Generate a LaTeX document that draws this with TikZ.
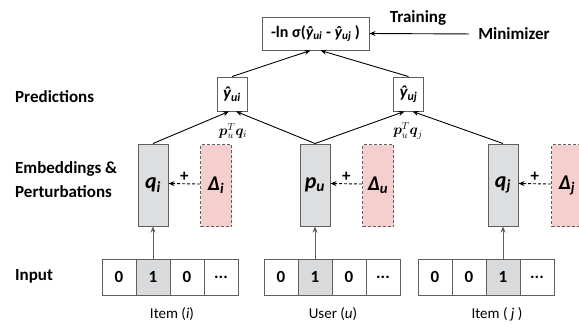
\documentclass[tikz,border=0pt]{standalone}
\usepackage{fontspec}
\setmainfont{Carlito}
\usepackage{amsmath,bm}
\usetikzlibrary{arrows.meta}
\definecolor{embfill}{RGB}{221,222,224}
\definecolor{pertfill}{RGB}{245,206,206}
\definecolor{cellone}{RGB}{217,218,220}
\definecolor{edgecol}{RGB}{95,95,95}
\begin{document}
\begin{tikzpicture}[x=1pt,y=-1pt,
  lbl/.style={font=\fontsize{17}{24}\selectfont\bfseries, anchor=west, align=left, inner sep=0pt},
  emb/.style={draw=edgecol, fill=embfill, minimum width=30pt, minimum height=82pt, line width=1pt, inner sep=0pt, font=\fontsize{22}{24}\selectfont\bfseries\itshape},
  pert/.style={draw=edgecol, dash pattern=on 3pt off 2pt, fill=pertfill, minimum width=31pt, minimum height=82pt, line width=0.8pt, inner sep=0pt, font=\fontsize{21}{24}\selectfont\bfseries\itshape},
  pred/.style={draw=edgecol, minimum width=30pt, minimum height=34pt, line width=0.9pt, inner sep=0pt, font=\fontsize{17}{20}\selectfont\bfseries\itshape},
  cellbox/.style={draw=edgecol, minimum width=34pt, minimum height=36pt, line width=0.9pt, inner sep=0pt, font=\fontsize{17}{20}\selectfont\bfseries},
  onecell/.style={cellbox, fill=cellone},
  captxt/.style={font=\fontsize{15}{18}\selectfont, inner sep=0pt},
  arr/.style={-{Stealth[length=6pt,width=5pt]}, line width=0.9pt},
  darr/.style={-{Stealth[length=6pt,width=5pt]}, line width=0.9pt, dash pattern=on 3pt off 2pt},
  mathlbl/.style={font=\fontsize{14.5}{16}\selectfont, inner sep=0pt},
  plus/.style={font=\fontsize{17}{20}\selectfont\bfseries, inner sep=0pt},
]
\useasboundingbox (0,0) rectangle (579,325);

% row labels
\node[lbl] (lpred) at (15,97) {Predictions};
\node[lbl] (lemb) at (15,180) {Embeddings \&\\Perturbations};
\node[lbl] (linp) at (15,276) {Input};

% top
\node[draw=edgecol, line width=0.9pt, minimum width=107pt, minimum height=33pt, inner sep=0pt, font=\fontsize{16}{19}\selectfont\bfseries] (top) at (315.5,33.5)
  {-ln σ(\textit{ŷ\textsubscript{ui}} - \textit{ŷ\textsubscript{uj}} )};
\node[font=\fontsize{17}{20}\selectfont\bfseries, inner sep=0pt] (train) at (418,18) {Training};
\node[font=\fontsize{17}{20}\selectfont\bfseries, inner sep=0pt] (mini) at (514,34) {Minimizer};
\draw[arr, shorten <=9pt] (mini.west) -- (top.east);

% predictions
\node[pred] (yui) at (232,94) {ŷ\textsubscript{ui}};
\node[pred] (yuj) at (408.5,94) {ŷ\textsubscript{uj}};
\node[mathlbl] (mi) at (233,131) {$\bm{p}_u^T\bm{q}_i$};
\node[mathlbl] (mj) at (408,131) {$\bm{p}_u^T\bm{q}_j$};

% embeddings
\node[emb] (qi) at (153,185) {q\textsubscript{i}};
\node[emb] (pu) at (315,185) {p\textsubscript{u}};
\node[emb] (qj) at (503,185) {q\textsubscript{j}};
\node[pert] (di) at (216,185.5) {Δ\textsubscript{i}};
\node[pert] (du) at (378,185.5) {Δ\textsubscript{u}};
\node[pert] (dj) at (567,185.5) {Δ\textsubscript{j}};

\draw[darr] ([yshift=1.5pt]di.west) -- node[above=2pt, plus] {+} ([yshift=1.5pt]qi.east);
\draw[darr] ([yshift=1.5pt]du.west) -- node[above=2pt, plus] {+} ([yshift=1.5pt]pu.east);
\draw[darr] ([yshift=1.5pt]dj.west) -- node[above=2pt, plus] {+} ([yshift=1.5pt]qj.east);

% input cells
\node[cellbox] (a1) at (119,277) {0};
\node[onecell] (a2) at (153,277) {1};
\node[cellbox] (a3) at (187,277) {0};
\node[cellbox] (a4) at (221,277) {...};
\node[cellbox] (b1) at (281,277) {0};
\node[onecell] (b2) at (315,277) {1};
\node[cellbox] (b3) at (349,277) {0};
\node[cellbox] (b4) at (383,277) {...};
\node[cellbox] (c1) at (435,277) {0};
\node[cellbox] (c2) at (469,277) {0};
\node[onecell] (c3) at (503,277) {1};
\node[cellbox] (c4) at (537,277) {...};

\node[captxt] (ci) at (172,314) {Item (\textit{i})};
\node[captxt] (cu) at (333,314) {User (\textit{u})};
\node[captxt] (cj) at (497,314) {Item ( \textit{j} )};

% connectors
\draw[arr, draw=edgecol] (a2.north) -- (qi.south);
\draw[arr, draw=edgecol] (b2.north) -- (pu.south);
\draw[arr, draw=edgecol] (c3.north) -- (qj.south);

\draw[arr] (qi.north) -- ([xshift=-3pt]yui.south);
\draw[arr] (pu.north) -- ([xshift=4pt]yui.south);
\draw[arr] (pu.north) -- ([xshift=-4pt]yuj.south);
\draw[arr] (qj.north) -- ([xshift=4pt]yuj.south);

\draw[arr] (yui.north) -- ([xshift=-5pt]top.south);
\draw[arr] (yuj.north) -- ([xshift=5pt]top.south);
\end{tikzpicture}
\end{document}
